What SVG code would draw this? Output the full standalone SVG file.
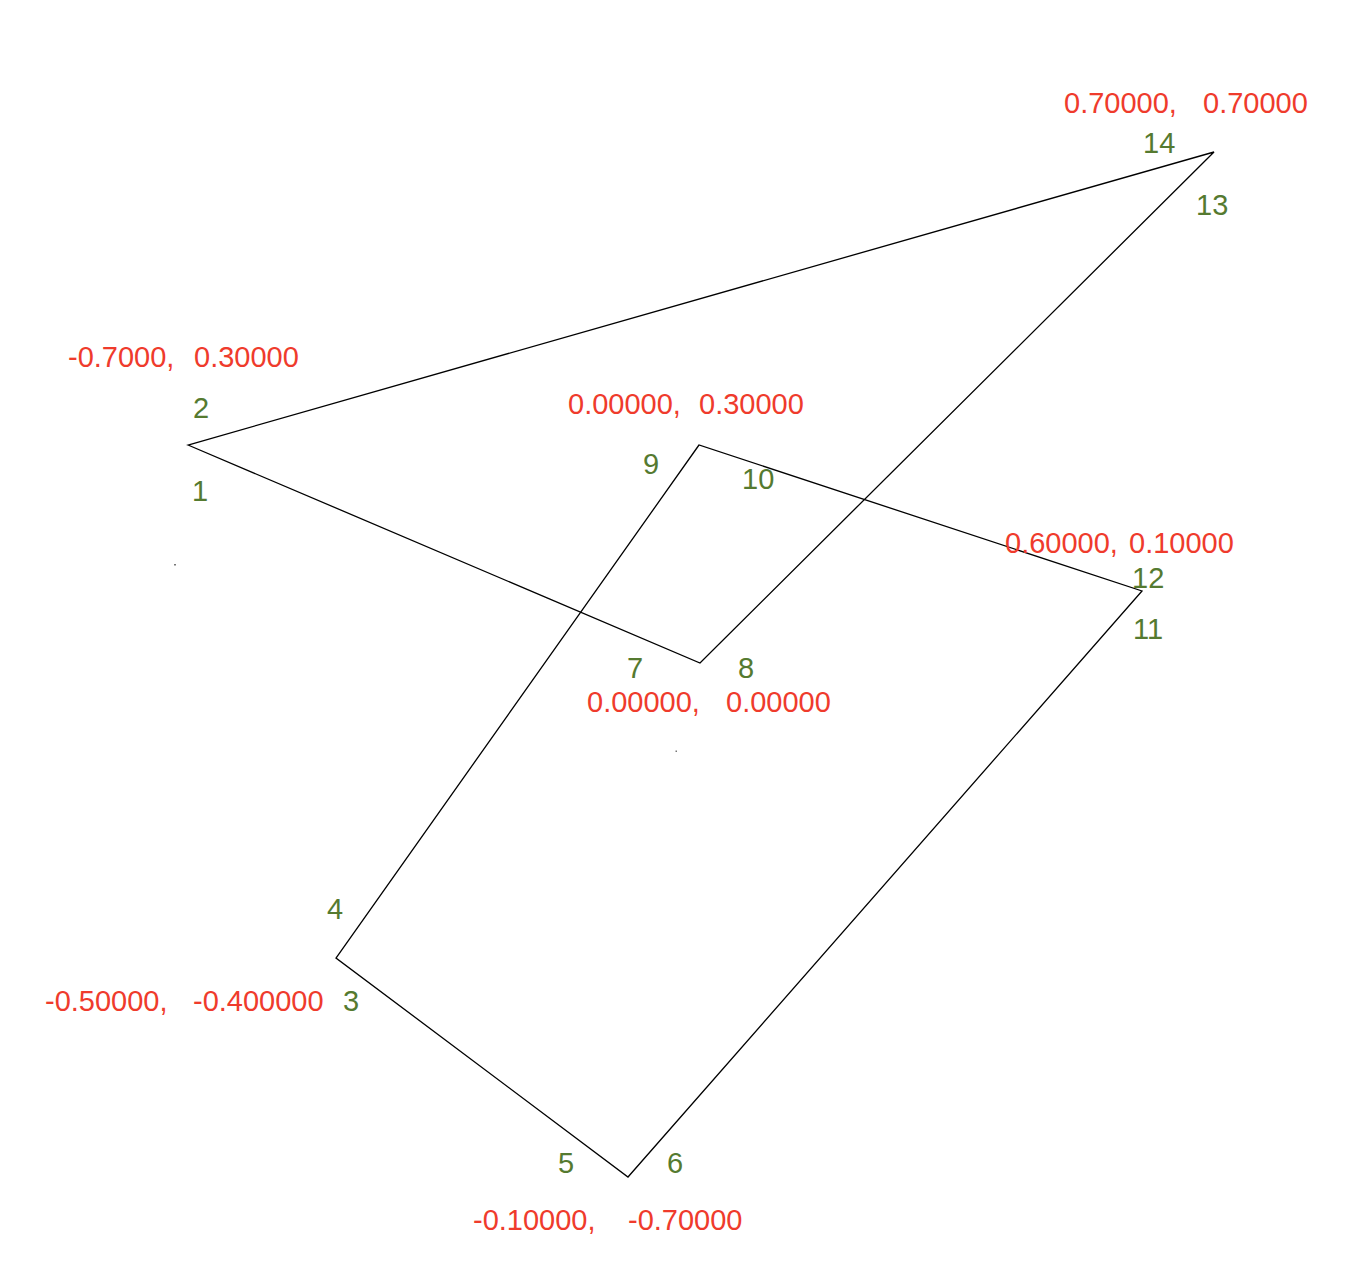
<svg xmlns="http://www.w3.org/2000/svg" width="1358" height="1278" viewBox="0 0 1358 1278">
<style>
.coord{font-family:"Liberation Sans",Arial,sans-serif;font-size:29px;fill:#ef3b2c}
.num{font-family:"Liberation Sans",Arial,sans-serif;font-size:29px;fill:#557a30}
.edge{fill:none;stroke:#000;stroke-width:1.3}
</style>
<rect width="1358" height="1278" fill="#fff"/>
<g id="connectors">
<polygon class="edge" points="188,445 700,663 1214,152"/>
<polygon class="edge" points="699,445 336,958 628,1177 1142,591"/>
</g>
<g id="dots">
<rect x="174" y="564" width="2" height="1.5" fill="#777"/>
<rect x="675.5" y="750.5" width="1.5" height="1.5" fill="#777"/>
</g>
<g id="node-p1">
<text class="coord" x="68" y="367">-0.7000,<tspan x="194">0.30000</tspan></text>
<text class="num" x="193" y="418">2</text>
<text class="num" x="192" y="501">1</text>
</g>
<g id="node-p2">
<text class="coord" x="568" y="414">0.00000,<tspan x="699">0.30000</tspan></text>
<text class="num" x="643" y="474">9</text>
<text class="num" x="742" y="489">10</text>
</g>
<g id="node-p3">
<text class="num" x="627" y="678">7</text>
<text class="num" x="738" y="678">8</text>
<text class="coord" x="587" y="712">0.00000,<tspan x="726">0.00000</tspan></text>
</g>
<g id="node-p4">
<text class="coord" x="1005" y="553">0.60000,<tspan x="1129">0.10000</tspan></text>
<text class="num" x="1132" y="588">12</text>
<text class="num" x="1133" y="639">11</text>
</g>
<g id="node-p5">
<text class="coord" x="1064" y="113">0.70000,<tspan x="1203">0.70000</tspan></text>
<text class="num" x="1143" y="153">14</text>
<text class="num" x="1196" y="215">13</text>
</g>
<g id="node-p6">
<text class="num" x="327" y="919">4</text>
<text class="coord" x="45" y="1011">-0.50000,<tspan x="193">-0.400000</tspan></text>
<text class="num" x="343" y="1011">3</text>
</g>
<g id="node-p7">
<text class="num" x="558" y="1173">5</text>
<text class="num" x="667" y="1173">6</text>
<text class="coord" x="473" y="1230">-0.10000,<tspan x="628">-0.70000</tspan></text>
</g>
</svg>
